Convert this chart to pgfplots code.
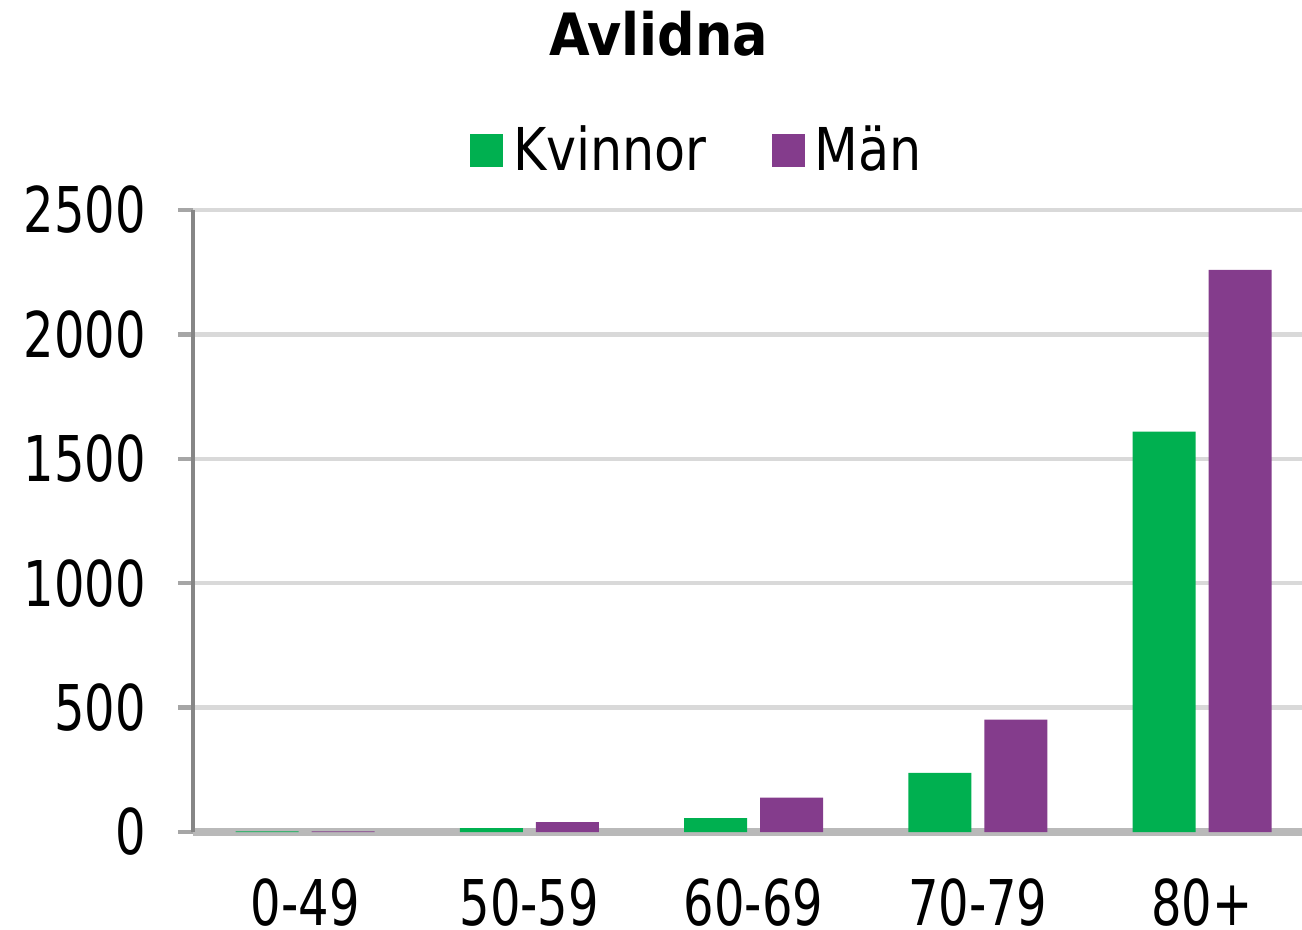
\documentclass[border=0pt]{standalone}
\usepackage{pgfplots}
\pgfplotsset{compat=1.18}
\usepackage{fontspec}
\setmainfont{DejaVu Sans Condensed}
\newfontfamily\tickfont[FakeStretch=0.845]{DejaVu Sans Condensed}
\newfontfamily\legfont[FakeStretch=0.955]{DejaVu Sans Condensed}
\definecolor{kgreen}{HTML}{00B050}
\definecolor{mpurple}{HTML}{843C8C}
\definecolor{gridgray}{HTML}{D9D9D9}
\definecolor{axgray}{HTML}{868686}

\begin{document}
\begin{tikzpicture}
\begin{axis}[
    scale only axis,
    width=11.09cm, height=6.22cm,
    ybar=0.13cm, bar width=0.63cm,
    xmin=-0.5, xmax=4.446,
    ymin=0, ymax=2500,
    xtick=data,
    xticklabels={0-49,50-59,60-69,70-79,80+},
    ytick={0,500,1000,1500,2000,2500},
    axis x line*=bottom, axis y line*=left,
    x axis line style={draw=gray!55, line width=2pt},
    y axis line style={draw=axgray, line width=1.2pt},
    ymajorgrids,
    grid style={gridgray, line width=1.2pt},
    tick align=outside, major tick length=0.15cm,
    ytick style={draw=gray!70, line width=1.2pt},
    xtick style={draw=none},
    /pgf/number format/assume math mode=true,
    /pgf/number format/1000 sep={},
    tick label style={font=\tickfont\fontsize{17.95}{20}\selectfont, text=black},
    yticklabel style={xshift=-0.2cm},
    xticklabel style={yshift=-0.19cm},
    title={Avlidna},
    title style={at={(axis description cs:0.42,1.25)}, anchor=center,
      font=\fontsize{16.6}{20}\selectfont\bfseries},
    legend style={at={(axis description cs:0.458,1.096)}, anchor=center,
      draw=none, fill=none, legend columns=2,
      font=\legfont\fontsize{16.8}{20}\selectfont,
      nodes={inner xsep=0.1cm},
      /tikz/every even column/.append style={column sep=0.55cm}},
    legend image code/.code={\fill[#1] (0cm,-0.165cm) rectangle (0.33cm,0.165cm);},
]
\addplot[fill=kgreen, draw=none] coordinates {(0,3) (1,16) (2,56) (3,238) (4,1609)};
\addlegendentry{Kvinnor}
\addplot[fill=mpurple, draw=none] coordinates {(0,3) (1,40) (2,138) (3,452) (4,2259)};
\addlegendentry{Män}
\end{axis}
\pgfresetboundingbox
\path[use as bounding box] (-1.93,-0.97) rectangle (11.09,8.32);
\end{tikzpicture}
\end{document}
